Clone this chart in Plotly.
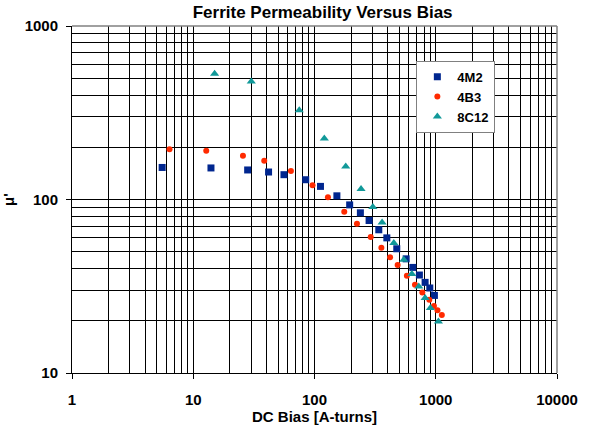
import plotly.graph_objects as go

# ---- data ----
m4m2_x = [5.54, 14.0, 28.1, 41.8, 56.0, 84.6, 112, 153, 195, 239, 282, 339, 395, 477, 570, 647, 733, 817, 893, 975]
m4m2_y = [153, 152, 148, 144, 139, 130, 119, 105, 93.1, 83.8, 75.7, 66.9, 60.1, 52.0, 45.5, 40.6, 36.7, 33.3, 30.9, 28.0]

b4b3_x = [6.37, 12.8, 25.7, 38.5, 63.9, 96.3, 129, 176, 224, 291, 356, 420, 485, 578, 674, 775, 885, 966, 1033, 1122]
b4b3_y = [195, 191, 179, 167, 146, 121, 103, 84.9, 72.4, 60.7, 52.7, 46.4, 41.9, 36.3, 32.3, 29.1, 26.4, 24.3, 23.0, 21.6]

c8c12_x = [15.0, 30.1, 74.9, 120.5, 181, 242, 303, 361, 451, 545, 635, 725, 817, 903, 1052]
c8c12_y = [530, 478, 327, 225, 155, 115, 90.4, 73.7, 56.1, 45.0, 37.2, 31.5, 27.1, 23.7, 19.8]

x_ticks = [1, 10, 100, 1000, 10000]
x_tick_text = ["1", "10", "100", "1000", "10000"]
y_ticks = [10, 100, 1000]
y_tick_text = ["10", "100", "1000"]
mults = [2, 3, 4, 5, 6, 7, 8, 9]
x_minor = [d * m for d in x_ticks[:-1] for m in mults]
y_minor = [d * m for d in y_ticks[:-1] for m in mults]

FONT = "Liberation Sans, Arial, sans-serif"


def bold(s):
    return "<b>" + s + "</b>"


fig = go.Figure()
fig.add_trace(go.Scatter(x=m4m2_x, y=m4m2_y, mode="markers", name=bold("4M2"),
                         marker=dict(symbol="square", size=7, color="#00268f")))
fig.add_trace(go.Scatter(x=b4b3_x, y=b4b3_y, mode="markers", name=bold("4B3"),
                         marker=dict(symbol="circle", size=6, color="#ff2a00")))
fig.add_trace(go.Scatter(x=c8c12_x, y=c8c12_y, mode="markers", name=bold("8C12"),
                         marker=dict(symbol="triangle-up", size=8, color="#119999")))

fig.update_layout(
    width=592, height=429,
    margin=dict(l=72, r=35, t=26, b=56, autoexpand=False),
    paper_bgcolor="white", plot_bgcolor="white",
    font=dict(family=FONT, size=14, color="black"),
    title=dict(text=bold("Ferrite Permeability Versus Bias"), x=0.545, xanchor="center",
               y=0.971, yanchor="middle", font=dict(size=17, family=FONT),
               automargin=False),
    showlegend=True,
    legend=dict(x=0.71, y=0.9, xanchor="left", yanchor="top",
                bgcolor="white", bordercolor="#808080", borderwidth=1,
                font=dict(size=13, family=FONT),
                itemwidth=30, tracegroupgap=0),
)

fig.update_xaxes(
    type="log", range=[0, 4], automargin=False,
    tickvals=x_ticks, ticktext=[bold(t) for t in x_tick_text],
    tickfont=dict(size=15),
    ticks="outside", ticklen=5, tickcolor="black",
    ticklabelstandoff=8,
    showgrid=True, gridcolor="black", gridwidth=1,
    minor=dict(tickvals=x_minor, showgrid=True, gridcolor="black", gridwidth=1, ticks=""),
    showline=True, linecolor="black", linewidth=1,
    zeroline=False,
    title=dict(text=bold("DC Bias [A-turns]"), font=dict(size=15), standoff=4),
)
fig.update_yaxes(
    type="log", range=[1, 3], automargin=False,
    tickvals=y_ticks, ticktext=[bold(t) for t in y_tick_text],
    tickfont=dict(size=15),
    ticks="outside", ticklen=5, tickcolor="black",
    ticklabelstandoff=5,
    showgrid=True, gridcolor="black", gridwidth=1,
    minor=dict(tickvals=y_minor, showgrid=True, gridcolor="black", gridwidth=1, ticks=""),
    showline=True, linecolor="black", linewidth=1,
    zeroline=False,
    title=dict(text=bold("μ'"), font=dict(size=15), standoff=10),
)

# grey frame on top and right, as in the reference
fig.add_shape(type="line", xref="paper", yref="paper", x0=0, x1=1, y0=1, y1=1,
              line=dict(color="#808080", width=1.5))
fig.add_shape(type="line", xref="paper", yref="paper", x0=1, x1=1, y0=0, y1=1,
              line=dict(color="#808080", width=1.5))

fig.write_html("out.html")
